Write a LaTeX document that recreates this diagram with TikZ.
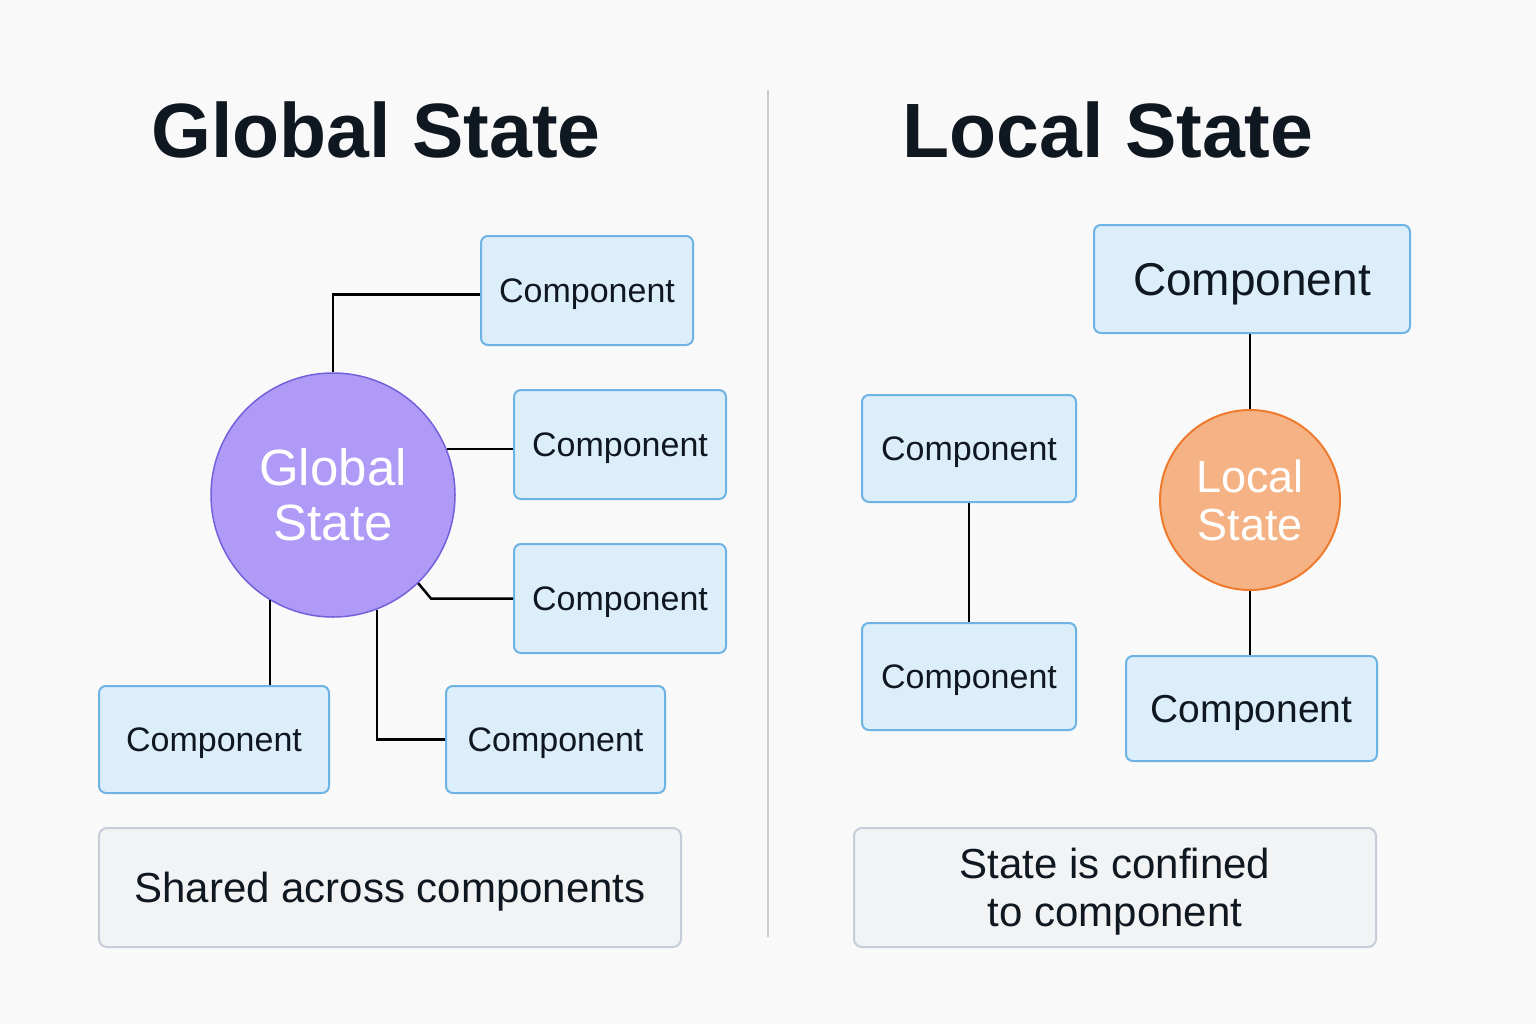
\documentclass[tikz,border=0pt]{standalone}
\usepackage{fontspec}
\setmainfont{Liberation Sans}
\usetikzlibrary{calc}
\definecolor{bgc}{RGB}{249,249,249}
\definecolor{boxfill}{RGB}{221,238,251}
\definecolor{boxline}{RGB}{109,179,227}
\definecolor{purfill}{RGB}{175,155,247}
\definecolor{purline}{RGB}{116,96,218}
\definecolor{orfill}{RGB}{245,179,133}
\definecolor{orline}{RGB}{238,122,46}
\definecolor{notefill}{RGB}{242,243,245}
\definecolor{noteline}{RGB}{198,204,216}
\definecolor{divc}{RGB}{201,206,214}
\definecolor{txt}{RGB}{15,23,32}
\newcommand{\fs}[2]{\fontsize{#1bp}{#2bp}\selectfont}
\begin{document}
\begin{tikzpicture}[x=1bp,y=-1bp,
  comp/.style={draw=boxline,fill=boxfill,line width=2bp,rounded corners=7bp,inner sep=0pt,text=txt,text depth=0pt},
  note/.style={draw=noteline,fill=notefill,line width=2bp,rounded corners=8bp,inner sep=0pt,text=txt,align=center,text depth=0pt},
  title/.style={text=txt,font=\fs{77}{80}\bfseries,anchor=base},
  conn/.style={draw=black,line width=2.5bp},
  gcirc/.style={circle,draw=purline,fill=purfill,line width=1.5bp,inner sep=0pt,text=white,align=center,text depth=0pt},
  lcirc/.style={circle,draw=orline,fill=orfill,line width=2bp,inner sep=0pt,text=white,align=center,text depth=0pt}]
\fill[bgc] (0,0) rectangle (1536,1024);
\useasboundingbox (0,0) rectangle (1536,1024);
% divider
\coordinate (dtop) at (768,90);
\coordinate (dbot) at (768,937);
\draw[divc,line width=2bp] (dtop) -- (dbot);
% titles
\node[title] (tg) at (376,157) {Global State};
\node[title] (tl) at (1108,157) {Local State};
% global side
\node[gcirc,minimum size=244bp,font=\fs{51}{55}] (gs) at (333,495) {Global\\State};
\node[comp,minimum width=212bp,minimum height=109bp,font=\fs{34}{40}] (c1) at (587,290.5) {Component};
\node[comp,minimum width=212bp,minimum height=109bp,font=\fs{34}{40}] (c2) at (620,444.5) {Component};
\node[comp,minimum width=212bp,minimum height=109bp,font=\fs{34}{40}] (c3) at (620,598.5) {Component};
\node[comp,minimum width=230bp,minimum height=107bp,font=\fs{34}{40}] (c4) at (214,739.5) {Component};
\node[comp,minimum width=219bp,minimum height=107bp,font=\fs{34}{40}] (c5) at (555.5,739.5) {Component};
\draw[conn] (gs.north) |- ($(c1.west)+(0,4)$);
\draw[conn] (gs.22) -- (gs.22 -| c2.west);
\draw[conn] (gs.-46) -- ($(c3.west)+(-82,0)$) -- (c3.west);
\draw[conn] (gs.239) -- (gs.239 |- c4.north);
\draw[conn] (gs.-69) |- (c5.west);
\node[note,minimum width=582bp,minimum height=119bp,font=\fs{42}{48}] (n1) at (390,887.5) {Shared across components};
% local side
\node[comp,minimum width=316bp,minimum height=108bp,font=\fs{46}{50}] (rt) at (1252,279) {Component};
\node[lcirc,minimum size=180bp,font=\fs{45}{48}] (ls) at (1250,500) {Local\\State};
\node[comp,minimum width=251bp,minimum height=105bp,font=\fs{39}{44}] (rb) at (1251.5,708.5) {Component};
\node[comp,minimum width=214bp,minimum height=107bp,font=\fs{34}{40}] (l1) at (969,448.5) {Component};
\node[comp,minimum width=214bp,minimum height=107bp,font=\fs{34}{40}] (l2) at (969,676.5) {Component};
\draw[conn] (ls.north) -- (ls.north |- rt.south);
\draw[conn] (ls.south) -- (ls.south |- rb.north);
\draw[conn] (l1.south) -- (l2.north);
\node[note,minimum width=522bp,minimum height=119bp,font=\fs{42}{48}] (n2) at (1115,887.5) {State is confined\\to component};
\end{tikzpicture}
\end{document}
